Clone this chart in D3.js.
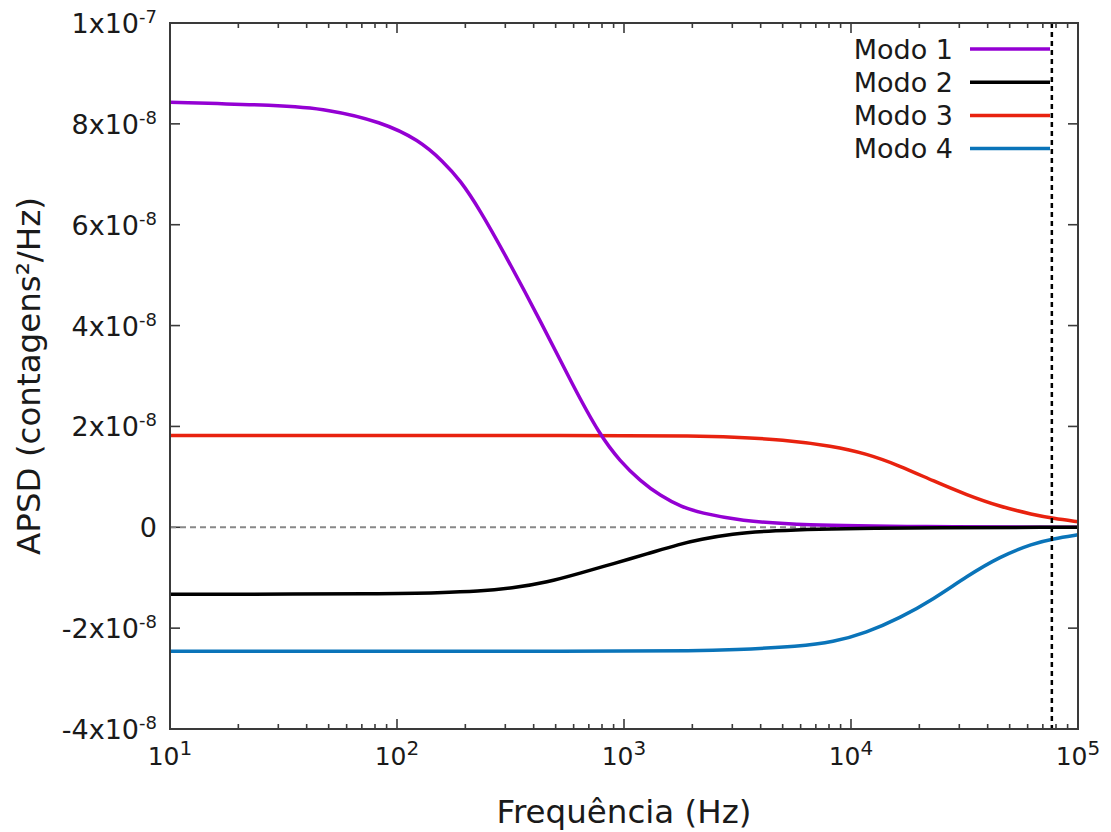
<!DOCTYPE html>
<html>
<head>
  <meta charset="utf-8">
  <script src="https://d3js.org/d3.v7.min.js"></script>
  <style>
    body { margin: 0; background: #fff; }
    svg text { font-family: "DejaVu Sans", sans-serif; fill: #1a1a1a; }
  </style>
</head>
<body>
<svg id="p" width="1111" height="832"></svg>
<script>
  // frequencies (Hz) and APSD values
  const freq1 = [10, 30, 50, 85, 125, 160, 190, 230, 300, 430, 600, 780, 960, 1180, 1440, 1800, 2160, 3250, 6000, 20000, 100000];
  const modo1 = [8.43e-8, 8.37e-8, 8.29e-8, 8.04e-8, 7.68e-8, 7.25e-8, 6.88e-8, 6.32e-8, 5.40e-8, 4.08e-8, 2.78e-8, 1.84e-8, 1.31e-8, 0.92e-8, 0.63e-8, 0.40e-8, 0.29e-8, 0.13e-8, 0.04e-8, 0.01e-8, 0];

  const freq2 = [10, 100, 150, 230, 320, 460, 640, 900, 1260, 1770, 2160, 3000, 4300, 10000, 100000];
  const modo2 = [-1.33e-8, -1.32e-8, -1.30e-8, -1.27e-8, -1.21e-8, -1.09e-8, -0.91e-8, -0.72e-8, -0.53e-8, -0.33e-8, -0.24e-8, -0.13e-8, -0.07e-8, -0.01e-8, 0];

  const freq3 = [10, 1000, 2000, 3000, 5000, 8300, 11700, 16400, 23000, 32400, 45300, 63400, 77600, 100000];
  const modo3 = [1.82e-8, 1.82e-8, 1.81e-8, 1.79e-8, 1.74e-8, 1.61e-8, 1.46e-8, 1.22e-8, 0.92e-8, 0.64e-8, 0.41e-8, 0.25e-8, 0.18e-8, 0.11e-8];

  const freq4 = [10, 1000, 2000, 3000, 6000, 8300, 11700, 16400, 23000, 32400, 45300, 63400, 77600, 100000];
  const modo4 = [-2.46e-8, -2.46e-8, -2.45e-8, -2.43e-8, -2.36e-8, -2.28e-8, -2.09e-8, -1.80e-8, -1.43e-8, -0.97e-8, -0.58e-8, -0.32e-8, -0.23e-8, -0.15e-8];

  const seriesNames = ["Modo 1", "Modo 2", "Modo 3", "Modo 4"];
  const seriesColors = ["#9400d3", "#000000", "#e8220f", "#0a74b9"];

  const xTicks = [1e1, 1e2, 1e3, 1e4, 1e5];
  const yTicks = [-4e-8, -2e-8, 0, 2e-8, 4e-8, 6e-8, 8e-8, 1e-7];
  const cutoff = 76700;

  const svg = d3.select("svg#p");
  const margin = {top: 23, right: 33, bottom: 103, left: 170};
  const width = +svg.attr("width");
  const height = +svg.attr("height");
  const x0 = margin.left, x1 = width - margin.right;
  const y0 = margin.top, y1 = height - margin.bottom;

  const xScale = d3.scaleLog().domain([10, 1e5]).range([x0, x1]);
  const yScale = d3.scaleLinear().domain([-4e-8, 1e-7]).range([y1, y0]);

  const frame = "#3a3a3a";

  // minor ticks on log axis
  const minor = [];
  for (let e = 1; e < 5; e++) for (let m = 2; m <= 9; m++) minor.push(m * Math.pow(10, e));

  const ticks = svg.append("g").attr("stroke", frame).attr("stroke-width", 1.6);
  xTicks.concat(minor).forEach(t => {
    const len = xTicks.includes(t) ? 10 : 5;
    const x = xScale(t);
    ticks.append("line").attr("x1", x).attr("x2", x).attr("y1", y1).attr("y2", y1 - len);
    ticks.append("line").attr("x1", x).attr("x2", x).attr("y1", y0).attr("y2", y0 + len);
  });
  yTicks.forEach(t => {
    const y = yScale(t);
    ticks.append("line").attr("x1", x0).attr("x2", x0 + 10).attr("y1", y).attr("y2", y);
    ticks.append("line").attr("x1", x1).attr("x2", x1 - 10).attr("y1", y).attr("y2", y);
  });

  // zero line
  svg.append("line")
     .attr("x1", x0).attr("x2", x1)
     .attr("y1", yScale(0)).attr("y2", yScale(0))
     .attr("stroke", "#888").attr("stroke-width", 2)
     .attr("stroke-dasharray", "6,4");

  // curves
  const line = d3.line()
                 .x(d => xScale(d[0]))
                 .y(d => yScale(d[1]))
                 .curve(d3.curveBasis);
  const allSeries = [[freq1, modo1], [freq2, modo2], [freq3, modo3], [freq4, modo4]];
  // purple under the black near zero, as in the original
  [3, 2, 0, 1].forEach(i => {
    const [f, v] = allSeries[i];
    svg.append("path")
       .datum(f.map((d, j) => [d, v[j]]))
       .attr("d", line)
       .attr("fill", "none")
       .attr("stroke", seriesColors[i])
       .attr("stroke-width", 3.5);
  });

  // cutoff line
  svg.append("line")
     .attr("x1", xScale(cutoff)).attr("x2", xScale(cutoff))
     .attr("y1", y0).attr("y2", y1)
     .attr("stroke", "#000").attr("stroke-width", 2.5)
     .attr("stroke-dasharray", "5,4");

  // frame
  svg.append("rect")
     .attr("x", x0).attr("y", y0)
     .attr("width", x1 - x0).attr("height", y1 - y0)
     .attr("fill", "none").attr("stroke", frame).attr("stroke-width", 2);

  // y tick labels
  yTicks.forEach(t => {
    const txt = svg.append("text")
                   .attr("x", x0 - 13)
                   .attr("y", yScale(t) + 10)
                   .attr("text-anchor", "end")
                   .style("font-size", "27px");
    if (t === 0) { txt.text("0"); return; }
    const e = Math.floor(Math.log10(Math.abs(t)) + 1e-9);
    const m = Math.round(t / Math.pow(10, e));
    txt.append("tspan").text(m + "x10");
    txt.append("tspan").attr("dy", -10).style("font-size", "18px").text(e);
  });

  // x tick labels
  xTicks.forEach(t => {
    const e = Math.round(Math.log10(t));
    const txt = svg.append("text")
                   .attr("x", xScale(t))
                   .attr("y", 765)
                   .attr("text-anchor", "middle")
                   .style("font-size", "25px");
    txt.append("tspan").text("10");
    txt.append("tspan").attr("dy", -10).style("font-size", "20px").text(e);
  });

  // axis titles
  svg.append("text")
     .attr("x", (x0 + x1) / 2)
     .attr("y", 823)
     .attr("text-anchor", "middle")
     .style("font-size", "32.5px")
     .text("Frequência (Hz)");
  svg.append("text")
     .attr("transform", "translate(40," + ((y0 + y1) / 2) + ") rotate(-90)")
     .attr("text-anchor", "middle")
     .style("font-size", "32.5px")
     .text("APSD (contagens²/Hz)");

  // legend
  seriesNames.forEach((name, i) => {
    const y = 49 + i * 33.2;
    svg.append("text")
       .attr("x", 953).attr("y", y + 9.5)
       .attr("text-anchor", "end")
       .style("font-size", "27px")
       .text(name);
    svg.append("line")
       .attr("x1", 970).attr("x2", 1050)
       .attr("y1", y).attr("y2", y)
       .attr("stroke", seriesColors[i]).attr("stroke-width", 3.5);
  });
</script>
</body>
</html>
